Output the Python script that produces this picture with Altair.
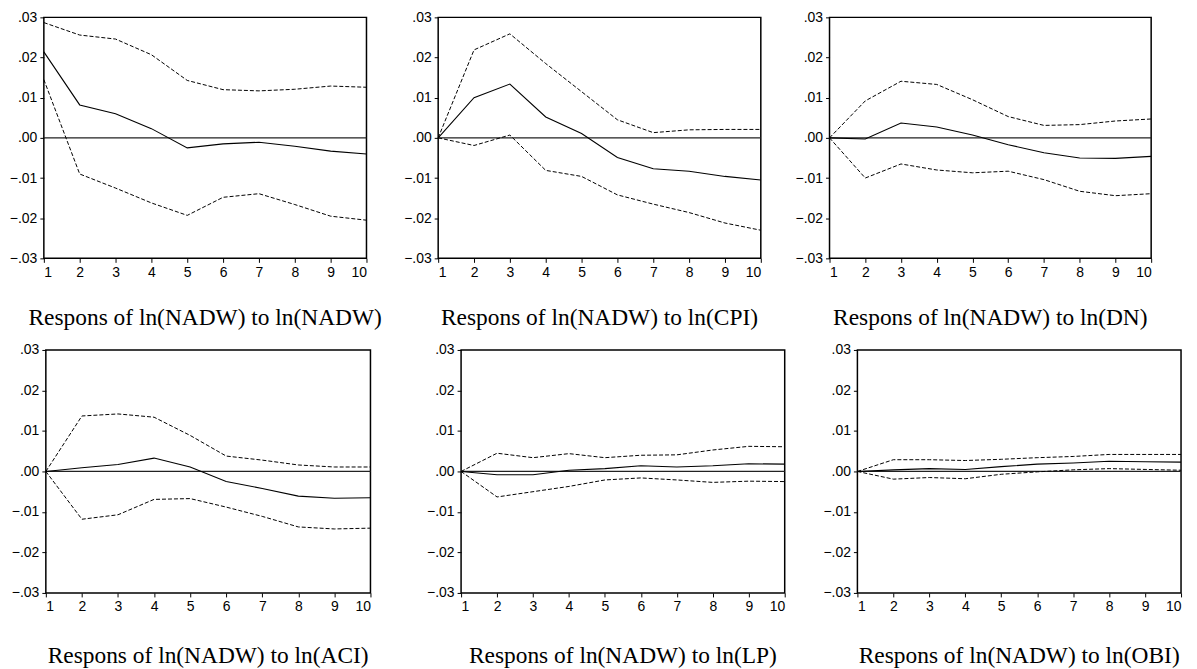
import altair as alt
import pandas as pd

h_vals = list(range(1, 11))

nadw_est = [0.0214, 0.0082, 0.0060, 0.0023, -0.0025, -0.0015, -0.0011, -0.0021, -0.0033, -0.0040]
nadw_up = [0.0287, 0.0256, 0.0246, 0.0207, 0.0143, 0.0120, 0.0117, 0.0121, 0.0129, 0.0126]
nadw_lo = [0.0145, -0.0090, -0.0125, -0.0162, -0.0193, -0.0148, -0.0139, -0.0166, -0.0195, -0.0205]

cpi_est = [0, 0.0100, 0.0134, 0.0052, 0.0011, -0.0049, -0.0077, -0.0083, -0.0096, -0.0105]
cpi_up = [0, 0.0219, 0.0259, 0.0185, 0.0115, 0.0045, 0.0013, 0.0020, 0.0021, 0.0021]
cpi_lo = [0, -0.0019, 0.0007, -0.0081, -0.0096, -0.0142, -0.0165, -0.0186, -0.0212, -0.0230]

dn_est = [0, -0.0003, 0.0037, 0.0027, 0.0007, -0.0017, -0.0037, -0.0050, -0.0051, -0.0046]
dn_up = [0, 0.0092, 0.0141, 0.0133, 0.0095, 0.0053, 0.0031, 0.0033, 0.0042, 0.0047]
dn_lo = [0, -0.0100, -0.0065, -0.0080, -0.0087, -0.0083, -0.0104, -0.0133, -0.0144, -0.0139]

aci_est = [0, 0.0009, 0.0017, 0.0033, 0.0011, -0.0025, -0.0042, -0.0061, -0.0066, -0.0065]
aci_up = [0, 0.0137, 0.0142, 0.0134, 0.0089, 0.0038, 0.0028, 0.0016, 0.0011, 0.0011]
aci_lo = [0, -0.0118, -0.0107, -0.0069, -0.0067, -0.0088, -0.0111, -0.0137, -0.0142, -0.0140]

lp_est = [0, -0.0008, -0.0008, 0.0003, 0.0007, 0.0014, 0.0011, 0.0014, 0.0019, 0.0018]
lp_up = [0, 0.0045, 0.0034, 0.0044, 0.0034, 0.0040, 0.0041, 0.0053, 0.0062, 0.0061]
lp_lo = [0, -0.0063, -0.0050, -0.0037, -0.0021, -0.0016, -0.0021, -0.0027, -0.0024, -0.0025]

obi_est = [0, 0.0004, 0.0007, 0.0005, 0.0012, 0.0018, 0.0021, 0.0025, 0.0024, 0.0023]
obi_up = [0, 0.0029, 0.0029, 0.0027, 0.0030, 0.0034, 0.0037, 0.0042, 0.0042, 0.0042]
obi_lo = [0, -0.0019, -0.0015, -0.0018, -0.0007, -0.0001, 0.0004, 0.0007, 0.0005, 0.0003]

y_ticks = [-0.03, -0.02, -0.01, 0.0, 0.01, 0.02, 0.03]

panels = {
    "NADW": (nadw_est, nadw_up, nadw_lo),
    "CPI": (cpi_est, cpi_up, cpi_lo),
    "DN": (dn_est, dn_up, dn_lo),
    "ACI": (aci_est, aci_up, aci_lo),
    "LP": (lp_est, lp_up, lp_lo),
    "OBI": (obi_est, obi_up, obi_lo),
}

rows = []
for key, (est, up, lo) in panels.items():
    for band, vals in (("est", est), ("up", up), ("lo", lo)):
        for hh, v in zip(h_vals, vals):
            rows.append({"panel": key, "band": band, "h": hh, "value": v})
df = pd.DataFrame(rows)
zero_df = pd.DataFrame({"value": [0.0]})

LABEL_EXPR = "replace(format(datum.value, '.2f'), '0.', '.')"


def panel(key, w, hgt, off):
    x = alt.X("h:Q", scale=alt.Scale(domain=[1, 10], nice=False, zero=False),
              axis=alt.Axis(values=h_vals, title=None, format="d"))
    y = alt.Y("value:Q", scale=alt.Scale(domain=[-0.03, 0.03], nice=False, zero=False),
              axis=alt.Axis(values=y_ticks, title=None, labelExpr=LABEL_EXPR))
    base = alt.Chart(df).transform_filter(alt.datum.panel == key)
    zero = alt.Chart(zero_df).mark_rule(color="#222222", strokeWidth=1.2).encode(y=y)
    bands = base.transform_filter(alt.datum.band != "est").mark_line(
        color="black", strokeWidth=1, strokeDash=[4, 2]).encode(x=x, y=y, detail="band:N")
    est = base.transform_filter(alt.datum.band == "est").mark_line(
        color="black", strokeWidth=1.1).encode(x=x, y=y)
    return alt.layer(zero, bands, est).properties(
        width=w, height=hgt,
        title=alt.TitleParams(f"Respons of ln(NADW) to ln({key})", orient="bottom",
                              font="Liberation Serif", fontSize=23.5, fontWeight="normal",
                              color="black", anchor="middle", offset=off),
    )


def spacer(w, hgt):
    return alt.Chart(zero_df).mark_point(opacity=0, size=1, strokeWidth=0).encode(
        x=alt.value(w / 2), y=alt.value(hgt / 2)
    ).properties(width=w, height=hgt, view=alt.ViewBackground(stroke="transparent"))


row1 = alt.hconcat(
    panel("NADW", 324, 242, 27), spacer(72, 242),
    panel("CPI", 324, 242, 27), spacer(69, 242), panel("DN", 323, 242, 27),
    spacing=0, bounds="flush",
)
row2 = alt.hconcat(
    spacer(2, 244), panel("ACI", 326, 244, 30), spacer(91, 244),
    panel("LP", 325, 244, 30), spacer(73, 244), panel("OBI", 325, 244, 30),
    spacing=0, bounds="flush",
)

chart = alt.vconcat(row1, row2, spacing=11).properties(
    padding={"left": 0, "top": 0, "right": 5, "bottom": 5}
).configure_view(stroke="black", strokeWidth=1.5).configure_axis(
    grid=False, domain=False, tickColor="black", tickSize=4, tickWidth=1,
    labelFont="Liberation Sans", labelFontSize=14, labelColor="black", labelPadding=3,
)

chart.save("out.html", embed_options={"renderer": "svg", "actions": False})
